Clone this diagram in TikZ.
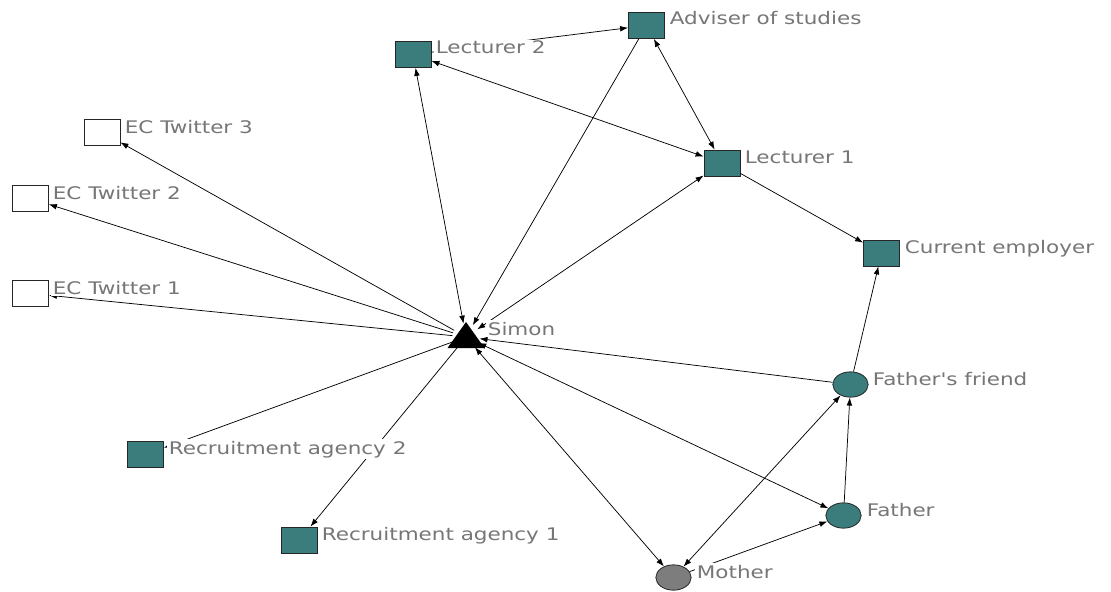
\documentclass[tikz,border=0pt]{standalone}
\usepackage{fontspec}
\setmainfont{DejaVu Sans}
% a plain family, so that a straight apostrophe stays straight
\newfontfamily\labelfont{DejaVu Sans}
\usepackage{graphicx}
\usetikzlibrary{arrows.meta,shapes.geometric}
\definecolor{nodeteal}{RGB}{59,124,124}
\definecolor{labelgray}{RGB}{118,118,118}
\definecolor{mothergray}{RGB}{125,125,125}
% labels are set slightly widened, as in the network drawing tool
\newcommand{\wide}[1]{\scalebox{1.24}[1]{#1}}
\begin{document}
\begin{tikzpicture}[x=0.75pt,y=-0.75pt,
  actor/.style={rectangle,draw=black!85,line width=0.6pt,fill=nodeteal,
    minimum width=27pt,minimum height=19.5pt,inner sep=0pt},
  outsider/.style={actor,fill=white},
  kin/.style={ellipse,draw=black!85,line width=0.6pt,fill=nodeteal,
    minimum width=26.5pt,minimum height=19pt,inner sep=0pt},
  egozone/.style={circle,inner sep=0pt,minimum size=20pt},
  tag/.style={anchor=base west,fill=white,inner sep=1.2pt,text=labelgray,
    font=\labelfont\fontsize{13}{15}\selectfont},
  tie/.style={line width=0.55pt,-{Latex[length=6pt,width=4.3pt]}},
  mutual/.style={line width=0.55pt,{Latex[length=6pt,width=4.3pt]}-{Latex[length=6pt,width=4.3pt]}}]

\useasboundingbox (0,0) rectangle (1111,592);

% actors
\node[egozone] (simon) at (466,337) {};
\fill ([shift={(0,-15)}]simon.center) -- ([shift={(-18.5,11)}]simon.center)
  -- ([shift={(18.5,11)}]simon.center) -- cycle;
\node[actor] (adviser) at (646.5,25.5) {};
\node[actor] (lect2) at (413,54.5) {};
\node[actor] (lect1) at (722,163) {};
\node[actor] (employer) at (881.5,253) {};
\node[outsider] (tw3) at (102,132) {};
\node[outsider] (tw2) at (30.5,198.5) {};
\node[outsider] (tw1) at (30.5,293.5) {};
\node[actor] (rec2) at (145.5,454.5) {};
\node[actor] (rec1) at (299.5,540) {};
\node[kin] (ffriend) at (850.5,384.5) {};
\node[kin] (father) at (843.5,515.5) {};
\node[kin,fill=mothergray] (mother) at (673.5,577.5) {};

% ties
\draw[tie] (simon) -- (tw3);
\draw[tie] (simon) -- (tw2);
\draw[tie] (simon) -- (tw1);
\draw[tie] (simon) -- (rec2);
\draw[tie] (simon) -- (rec1);
\draw[mutual] (simon) -- (lect2);
\draw[tie] (adviser) -- (simon);
\draw[mutual] (simon) -- (lect1);
\draw[tie] (ffriend) -- (simon);
\draw[mutual] (simon) -- (father);
\draw[mutual] (simon) -- (mother);
\draw[tie] (lect2) -- (adviser);
\draw[mutual] (lect2) -- (lect1);
\draw[mutual] (adviser) -- (lect1);
\draw[tie] (lect1) -- (employer);
\draw[tie] (ffriend) -- (employer);
\draw[tie] (father) -- (ffriend);
\draw[mutual] (mother) -- (ffriend);
\draw[tie] (mother) -- (father);

% names
\node[tag] (lsimon) at (486,335) {\wide{Simon}};
\node[tag] (ladviser) at (668,25) {\wide{Adviser of studies}};
\node[tag] (llect2) at (434,54) {\wide{Lecturer 2}};
\node[tag] (llect1) at (743,163) {\wide{Lecturer 1}};
\node[tag] (lemployer) at (903,253) {\wide{Current employer}};
\node[tag] (ltw3) at (123,133) {\wide{EC Twitter 3}};
\node[tag] (ltw2) at (51,199) {\wide{EC Twitter 2}};
\node[tag] (ltw1) at (51,294) {\wide{EC Twitter 1}};
\node[tag] (lrec2) at (167,454) {\wide{Recruitment agency 2}};
\node[tag] (lrec1) at (320,540) {\wide{Recruitment agency 1}};
\node[tag] (lffriend) at (871,385) {\wide{Father's friend}};
\node[tag] (lfather) at (865,516) {\wide{Father}};
\node[tag] (lmother) at (695,578) {\wide{Mother}};
\end{tikzpicture}
\end{document}
